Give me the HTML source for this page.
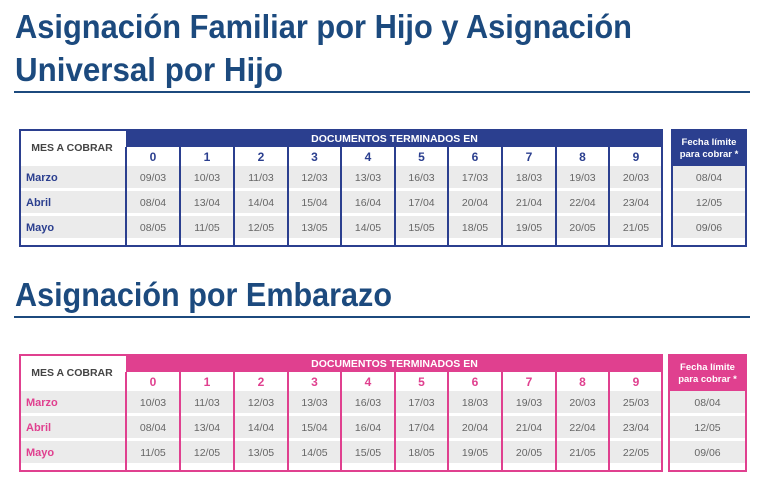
<!DOCTYPE html>
<html><head><meta charset="utf-8"><style>
html,body{margin:0;padding:0;background:#fff;}
svg{display:block;font-family:"Liberation Sans",sans-serif;}
</style></head><body>
<svg id="s" width="768" height="492" viewBox="0 0 768 492" xmlns="http://www.w3.org/2000/svg">
<rect width="768" height="492" fill="#fff"/>
<g fill="#1c4a7e" font-weight="bold" font-size="33">
<text x="15" y="38" textLength="617" lengthAdjust="spacingAndGlyphs">Asignación Familiar por Hijo y Asignación</text>
<text x="15" y="81" textLength="268" lengthAdjust="spacingAndGlyphs">Universal por Hijo</text>
<text x="15" y="306" textLength="377" lengthAdjust="spacingAndGlyphs">Asignación por Embarazo</text>
</g>
<rect x="14" y="91" width="736" height="2" fill="#1c4a7e"/>
<rect x="14" y="316" width="736" height="2" fill="#1c4a7e"/>
</svg>
<script>
var s=document.getElementById('s'),NS='http://www.w3.org/2000/svg';
function el(t,a,txt){var e=document.createElementNS(NS,t);for(var k in a)e.setAttribute(k,a[k]);if(txt)e.textContent=txt;s.appendChild(e);return e;}
function table(y0,col,data,lim,rx){
 var x0=19,x1=663,h=118,hb=18,hr=37,cols=[126,180,234,288,341,395,448,502,556,609,663];
 el('rect',{x:x0,y:y0,width:x1-x0,height:h,fill:'#fff'});
 // gray rows
 var rows=[hr,hr+25,hr+50];
 rows.forEach(function(r){el('rect',{x:x0,y:y0+r,width:x1-x0,height:22,fill:'#ebebeb'});});
 el('rect',{x:126,y:y0,width:x1-126,height:hb,fill:col});
 el('text',{x:(126+x1)/2,y:y0+13,'text-anchor':'middle','font-size':'10.5','font-weight':'bold',fill:'#fff'},'DOCUMENTOS TERMINADOS EN');
 el('text',{x:72,y:y0+22,'text-anchor':'middle','font-size':'10.5','font-weight':'bold',fill:'#444'},'MES A COBRAR');
 for(var i=0;i<10;i++){
  var cx=(cols[i]+cols[i+1])/2;
  el('text',{x:cx,y:y0+hb+14,'text-anchor':'middle','font-size':'12','font-weight':'bold',fill:col},String(i));
  for(var r=0;r<3;r++) el('text',{x:cx,y:y0+rows[r]+15,'text-anchor':'middle','font-size':'10.5',fill:'#666'},data[r][i]);
 }
 for(var i=0;i<10;i++) el('rect',{x:cols[i]-1,y:y0+hb,width:2,height:h-hb,fill:col});
 ['Marzo','Abril','Mayo'].forEach(function(m,r){el('text',{x:26,y:y0+rows[r]+15,'font-size':'11','font-weight':'bold',fill:col},m);});
 el('rect',{x:x0+1,y:y0+1,width:x1-x0-2,height:h-2,fill:'none',stroke:col,'stroke-width':2});
 // right box
 var rw=747-rx;
 el('rect',{x:rx,y:y0,width:rw,height:h,fill:'#fff'});
 rows.forEach(function(r,k){el('rect',{x:rx,y:y0+r,width:rw,height:22,fill:'#ebebeb'});el('text',{x:rx+rw/2,y:y0+r+15,'text-anchor':'middle','font-size':'10.5',fill:'#666'},lim[k]);});
 el('rect',{x:rx,y:y0,width:rw,height:hr,fill:col});
 el('text',{x:rx+rw/2,y:y0+16,'text-anchor':'middle','font-size':'9.5','font-weight':'bold',fill:'#fff'},'Fecha límite');
 el('text',{x:rx+rw/2,y:y0+28,'text-anchor':'middle','font-size':'9.5','font-weight':'bold',fill:'#fff'},'para cobrar *');
 el('rect',{x:rx+1,y:y0+1,width:rw-2,height:h-2,fill:'none',stroke:col,'stroke-width':2});
}
table(129,'#2b3f8f',[
['09/03','10/03','11/03','12/03','13/03','16/03','17/03','18/03','19/03','20/03'],
['08/04','13/04','14/04','15/04','16/04','17/04','20/04','21/04','22/04','23/04'],
['08/05','11/05','12/05','13/05','14/05','15/05','18/05','19/05','20/05','21/05']],['08/04','12/05','09/06'],671);
table(354,'#e0408f',[
['10/03','11/03','12/03','13/03','16/03','17/03','18/03','19/03','20/03','25/03'],
['08/04','13/04','14/04','15/04','16/04','17/04','20/04','21/04','22/04','23/04'],
['11/05','12/05','13/05','14/05','15/05','18/05','19/05','20/05','21/05','22/05']],['08/04','12/05','09/06'],668);
</script>
</body></html>
